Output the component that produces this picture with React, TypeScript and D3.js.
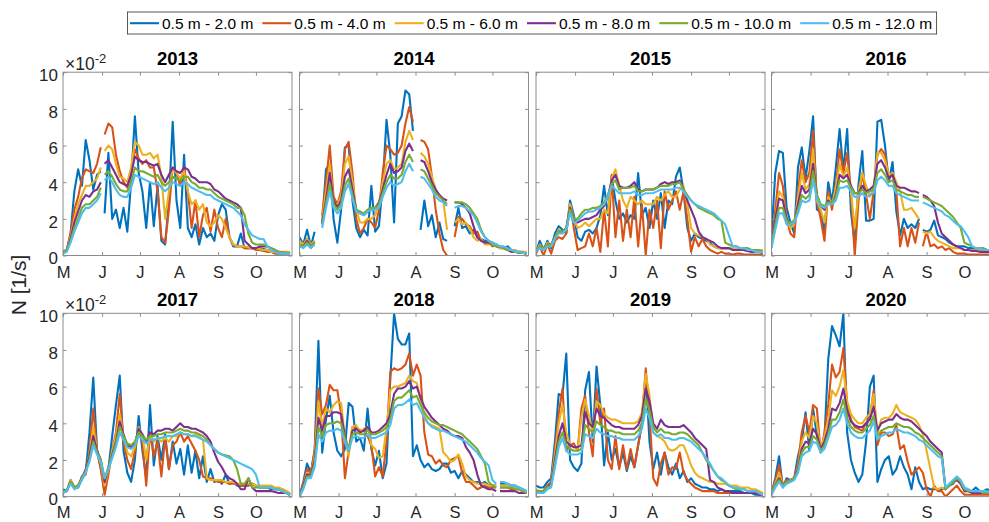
import React, { useEffect, useRef } from "react";
import * as d3 from "d3";

const W = 989;
const H = 522;
const FONT = "'Liberation Sans', Arial, Helvetica, sans-serif";
const INK = "#262626";
const FRAME = "#8c8c8c";

const COL_X = [63, 299.5, 536, 771.5];
const ROW_Y = [72.2, 313.3];
const PANEL_W = 229;
const PANEL_H = 183.3;
const X_END = 181.6; // days after 1 May shown on each axis

// Sampling grid: every third day starting 1 May
const DAYS = d3.range(0, 181, 3);

const MONTH_DAYS = [0, 31, 61, 92, 123, 153];
const MONTH_LABELS = ["M", "J", "J", "A", "S", "O"];
const Y_TICKS = [0, 2, 4, 6, 8, 10];
const YEARS = [2013, 2014, 2015, 2016, 2017, 2018, 2019, 2020];
const DEPTH_LABELS = [
  "0.5 m - 2.0 m",
  "0.5 m - 4.0 m",
  "0.5 m - 6.0 m",
  "0.5 m - 8.0 m",
  "0.5 m - 10.0 m",
  "0.5 m - 12.0 m",
];
const COLORS = ["#0072BD", "#D95319", "#EDB120", "#7E2F8E", "#77AC30", "#4DBEEE"];

// Buoyancy frequency N (x 1e-2 1/s), one array per year and depth range
const n2013_2 = [
  0.2, 0.3, 1.2, 3.5, 4.7, 3.8, 6.3, 5.2, 3.6, 4.4,
  4.6, 2.3, 5.6, 2.0, 2.5, 1.5, 2.6, 1.3, 4.0, 7.6,
  4.5, 3.5, 1.5, 4.0, 1.6, 3.8, 0.8, 0.6, 3.0, 7.3,
  3.0, 1.5, 5.5, 1.5, 1.0, 1.7, 0.6, 1.5, 1.0, 1.2,
  0.8, 2.2, 2.8, 2.5, 1.0, 0.5, 0.5, 1.2, 0.4, 0.4,
  0.4, 0.4, 0.4, 0.35, 0.3, 0.2, 0.15, 0.1, 0.1, 0.15,
  0.1,
];
const n2013_4 = [
  0.2, 0.3, 1.2, 2.5, 3.2, 4.2, 4.7, 4.6, 4.5, 5.0,
  5.9, 6.6, 7.2, 7.0, 5.5, 4.6, 4.0, 3.7, 4.5, 5.8,
  5.3, 5.0, 5.2, 4.8, 4.8, 3.5, 1.0, 0.7, 2.5, 4.8,
  4.5, 3.8, 4.8, 3.5, 1.5, 3.0, 1.0, 2.2, 2.6, 1.3,
  2.5, 1.5, 1.0, 2.0, 1.0, 0.6, 0.5, 0.5, 0.4, 0.4,
  0.4, 0.3, 0.3, 0.25, 0.2, 0.2, 0.1, 0.1, 0.1, 0.1,
  0.1,
];
const n2013_6 = [
  0.2, 0.3, 1.0, 2.0, 2.8, 3.3, 3.8, 3.8, 4.0, 4.2,
  4.8, 5.7, 6.0, 5.8, 5.0, 4.3, 4.2, 4.0, 4.8, 6.2,
  6.0, 5.5, 5.5, 5.6, 5.3, 5.5, 4.3, 2.0, 3.5, 4.8,
  4.5, 4.2, 4.6, 3.5, 2.8, 3.0, 2.5, 2.8, 1.8, 1.6,
  1.8, 2.2, 2.0, 1.5, 1.0, 0.6, 0.5, 0.5, 0.5, 0.45,
  0.4, 0.4, 0.35, 0.3, 0.3, 0.2, 0.2, 0.2, 0.2, 0.2,
  0.2,
];
const n2013_8 = [
  0.2, 0.3, 0.9, 1.8, 2.4, 3.0, 3.3, 3.2, 3.5, 3.6,
  4.0, 5.0, 5.2, 4.8, 4.4, 4.0, 3.9, 3.8, 4.4, 5.4,
  5.2, 5.1, 5.1, 5.0, 4.9, 5.0, 4.4, 4.0, 4.4, 4.8,
  4.6, 4.5, 4.8, 4.7, 4.3, 4.2, 4.0, 4.0, 4.0, 3.9,
  3.6, 3.5, 3.3, 3.1, 3.0, 2.9, 2.8, 2.6, 0.8, 0.6,
  0.4, 0.4, 0.5, 0.5, 0.5, 0.4, 0.3, 0.2, 0.15, 0.15,
  0.1,
];
const n2013_10 = [
  0.2, 0.3, 0.8, 1.5, 2.0, 2.6, 2.8, 2.8, 3.0, 3.2,
  3.7, 4.4, 4.6, 4.3, 3.9, 3.6, 3.5, 3.5, 4.0, 4.8,
  4.6, 4.6, 4.5, 4.4, 4.3, 4.4, 4.0, 3.8, 4.0, 4.3,
  4.2, 4.1, 4.3, 4.3, 4.0, 3.9, 3.7, 3.7, 3.6, 3.6,
  3.4, 3.2, 3.1, 3.0, 2.9, 2.8, 2.6, 2.6, 2.2, 1.2,
  0.7, 0.6, 0.6, 0.6, 0.5, 0.4, 0.3, 0.2, 0.15, 0.15,
  0.1,
];
const n2013_12 = [
  0.1, 0.2, 0.7, 1.3, 1.8, 2.3, 2.6, 2.6, 2.8, 3.0,
  3.4, 4.1, 4.3, 4.0, 3.6, 3.3, 3.2, 3.2, 3.7, 4.4,
  4.3, 4.2, 4.1, 4.0, 3.9, 4.0, 3.7, 3.5, 3.7, 4.0,
  3.9, 3.8, 4.0, 3.9, 3.7, 3.6, 3.5, 3.4, 3.3, 3.3,
  3.1, 3.0, 2.9, 2.8, 2.7, 2.6, 2.4, 2.2, 1.7, 1.4,
  1.1, 1.0, 0.9, 0.9, 0.5, 0.3, 0.2, 0.1, 0.1, 0.1,
  0.1,
];

const n2014_2 = [
  1.0, 0.6, 1.4, 0.5, 1.3, null, 1.7, 4.7, 5.0, 2.0,
  0.7, 2.5, 5.9, 6.0, 3.0, 1.5, 1.0, 1.4, 1.1, 3.8,
  1.3, 1.6, 3.9, 7.4, 5.5, 1.8, 7.2, 7.6, 9.0, 8.8,
  6.8, null, 1.4, 3.0, 1.6, 2.2, 1.0, 1.8, 0.9, 0.8,
  null, 1.6, 2.6, 1.5, 1.6, 1.2, 1.4, 1.0, 0.9, 0.8,
  0.8, 0.7, 0.6, 0.4, 0.4, 0.5, 0.3, 0.2, 0.2, 0.2,
  0.1,
];
const n2014_4 = [
  0.8, 0.6, 0.9, 0.5, 0.8, null, 2.2, 4.0, 6.0, 3.2,
  2.8, 3.5, 5.8, 6.2, 4.5, 2.0, 1.2, 1.5, 2.0, 1.8,
  1.5, 2.5, 4.5, 6.0, 5.8, 5.5, 5.6, 6.0, 7.2, 8.1,
  7.3, null, 6.3, 6.2, 5.8, 4.3, 2.5, 1.2, 0.3, 0.0,
  null, 1.0, 2.1, 2.0, 1.7, 1.6, 1.2, 1.3, 0.8, 0.7,
  0.8, 0.5, 0.6, 0.5, 0.4, 0.3, 0.3, 0.2, 0.15, 0.15,
  0.1,
];
const n2014_6 = [
  0.8, 0.6, 0.9, 0.6, 0.8, null, 2.0, 3.5, 5.0, 3.0,
  2.7, 3.3, 5.0, 5.4, 4.0, 2.5, 1.8, 1.8, 2.0, 2.0,
  2.2, 2.8, 4.0, 5.0, 5.2, 4.7, 4.8, 5.0, 6.2, 6.8,
  6.3, null, 5.6, 5.4, 5.0, 4.3, 3.6, 3.2, 3.0, 1.4,
  null, 1.8, 2.0, 1.7, 1.8, 1.5, 1.0, 0.8, 0.9, 0.6,
  0.6, 0.6, 0.5, 0.4, 0.4, 0.3, 0.3, 0.3, 0.2, 0.2,
  0.2,
];
const n2014_8 = [
  0.6, 0.5, 0.8, 0.5, 0.7, null, 1.8, 3.0, 4.5, 3.0,
  2.6, 3.0, 4.3, 4.7, 3.6, 2.5, 2.3, 2.2, 2.4, 2.5,
  2.6, 2.9, 3.6, 4.4, 5.0, 4.5, 4.6, 4.8, 5.7, 6.1,
  5.7, null, 5.2, 5.1, 4.6, 4.0, 3.6, 3.3, 3.1, 3.0,
  null, 2.9, 2.9, 2.8, 2.6, 2.3, 1.6, 1.0, 0.8, 0.7,
  0.7, 0.6, 0.5, 0.5, 0.4, 0.3, 0.2, 0.2, 0.15, 0.15,
  0.1,
];
const n2014_10 = [
  0.6, 0.5, 0.7, 0.5, 0.7, null, 1.7, 2.8, 3.9, 2.8,
  2.5, 2.8, 3.8, 4.2, 3.3, 2.5, 2.4, 2.3, 2.5, 2.6,
  2.6, 2.8, 3.4, 4.0, 4.4, 4.2, 4.2, 4.4, 5.1, 5.5,
  5.1, null, 4.7, 4.6, 4.2, 3.8, 3.4, 3.2, 3.0, 2.8,
  null, 2.9, 2.9, 2.9, 2.8, 2.6, 2.3, 2.0, 1.4, 1.0,
  0.8, 0.6, 0.5, 0.5, 0.4, 0.3, 0.3, 0.2, 0.15, 0.15,
  0.1,
];
const n2014_12 = [
  0.5, 0.4, 0.6, 0.4, 0.6, null, 1.5, 2.6, 3.5, 2.6,
  2.3, 2.6, 3.5, 3.9, 3.1, 2.4, 2.3, 2.2, 2.4, 2.5,
  2.5, 2.6, 3.2, 3.7, 4.0, 3.8, 3.9, 4.0, 4.6, 5.0,
  4.6, null, 4.3, 4.2, 3.9, 3.6, 3.2, 3.0, 2.9, 2.7,
  null, 2.6, 2.7, 2.7, 2.6, 2.4, 2.2, 1.8, 1.3, 1.0,
  0.8, 0.7, 0.6, 0.5, 0.5, 0.4, 0.3, 0.2, 0.2, 0.15,
  0.1,
];

const n2015_2 = [
  0.2, 0.8, 0.3, 0.8, 0.4, 1.2, 1.6, 1.4, 1.2, 3.0,
  2.2, 1.0, 0.8, 1.3, 1.4, 1.2, 1.5, 2.2, 3.8, 2.2,
  4.3, 3.0, 2.0, 2.3, 1.8, 2.2, 2.0, 4.5, 2.2, 2.6,
  1.5, 3.0, 2.0, 3.4, 1.5, 3.0, 2.8, 4.3, 4.8, 3.5,
  1.5, 0.8, 1.2, 1.0, 0.9, 0.8, 0.7, 0.5, 0.4, 0.4,
  0.4, 0.4, 0.35, 0.3, 0.3, 0.3, 0.25, 0.2, 0.2, 0.2,
  0.2,
];
const n2015_4 = [
  0.1, 0.5, 0.0, 0.6, 0.1, 0.8, 1.0, 0.9, 1.2, 2.8,
  1.5, 0.3, 0.4, 0.5, 1.2, 0.5, 1.5, 0.2, 2.5, 0.5,
  4.4, 1.0, 3.0, 0.8, 2.5, 1.0, 3.2, 0.5, 2.8, 0.0,
  2.5, 1.5, 3.0, 0.4, 3.5, 2.5, 3.0, 3.5, 2.5, 3.5,
  2.0, 0.2, 1.0, 0.5, 0.9, 0.5, 0.3, 0.2, 0.1, 0.2,
  0.1, 0.1, 0.05, 0.1, 0.1, 0.05, 0.05, 0.05, 0.05, 0.05,
  0.1,
];
const n2015_6 = [
  0.3, 0.6, 0.3, 0.7, 0.5, 1.0, 1.4, 1.3, 1.4, 2.8,
  2.0, 1.5, 1.6, 1.8, 1.6, 1.8, 2.0, 2.0, 2.5, 2.3,
  4.2, 4.7, 3.8, 3.0, 2.6, 3.2, 3.0, 2.8, 3.0, 2.8,
  2.8, 2.8, 3.2, 3.0, 3.3, 3.5, 3.2, 3.2, 3.6, 3.8,
  2.8, 1.5, 1.2, 1.1, 1.0, 0.9, 0.6, 0.5, 0.4, 0.4,
  0.4, 0.4, 0.35, 0.35, 0.35, 0.3, 0.3, 0.3, 0.3, 0.3,
  0.3,
];
const n2015_8 = [
  0.3, 0.5, 0.4, 0.6, 0.6, 1.0, 1.3, 1.3, 1.5, 2.6,
  2.0, 1.8, 1.9, 2.0, 2.0, 2.1, 2.2, 2.5, 2.7, 3.2,
  4.1, 4.4, 3.8, 3.7, 3.7, 3.8, 4.0, 3.6, 3.5, 3.6,
  3.6, 3.6, 3.7, 3.9, 4.0, 3.9, 4.0, 4.0, 4.1, 3.6,
  3.0, 2.5, 2.0, 1.3, 1.0, 0.9, 0.8, 0.7, 0.5, 0.4,
  0.4, 0.4, 0.3, 0.3, 0.3, 0.3, 0.25, 0.2, 0.2, 0.2,
  0.2,
];
const n2015_10 = [
  0.3, 0.5, 0.4, 0.6, 0.6, 1.0, 1.3, 1.3, 1.5, 2.5,
  2.0, 2.0, 2.3, 2.5, 2.5, 2.6, 2.6, 2.7, 2.9, 3.3,
  3.9, 4.1, 3.6, 3.7, 3.7, 3.7, 3.8, 3.5, 3.5, 3.6,
  3.6, 3.6, 3.7, 3.8, 3.8, 3.8, 3.9, 3.9, 4.0, 3.6,
  3.3, 3.0, 2.8, 2.6, 2.5, 2.4, 2.3, 2.2, 2.0, 1.9,
  0.7, 0.6, 0.5, 0.5, 0.4, 0.4, 0.4, 0.3, 0.3, 0.3,
  0.2,
];
const n2015_12 = [
  0.2, 0.4, 0.3, 0.5, 0.5, 0.9, 1.2, 1.2, 1.4, 2.3,
  1.8, 1.9, 2.1, 2.3, 2.4, 2.4, 2.5, 2.6, 2.8, 3.2,
  3.8, 3.6, 3.4, 3.4, 3.4, 3.4, 3.5, 3.3, 3.3, 3.4,
  3.4, 3.4, 3.5, 3.6, 3.6, 3.6, 3.6, 3.7, 3.7, 3.5,
  3.2, 3.0, 2.8, 2.7, 2.6, 2.5, 2.4, 2.3, 2.1, 1.9,
  1.7, 1.1, 0.5, 0.5, 0.4, 0.4, 0.3, 0.3, 0.2, 0.2,
  0.2,
];

const n2016_2 = [
  1.1, 4.5, 5.7, 5.6, 2.6, 1.8, 1.2, 4.8, 5.9, 4.2,
  5.7, 7.6, 2.5, 2.4, 1.3, 4.0, 2.9, 4.8, 6.9, 4.6,
  6.9, 2.4, 0.6, 3.9, 5.7, 1.9, 1.9, 2.0, 7.3, 7.4,
  6.0, 4.0, 5.1, 2.4, 1.1, 2.0, 1.5, 1.7, 1.5, 2.0,
  1.4, 1.3, 1.4, 1.9, 1.1, 1.0, 0.9, 0.7, 0.6, 0.5,
  0.5, 0.5, 0.4, 0.4, 0.4, 0.35, 0.35, 0.3, 0.3, 0.3,
  0.3,
];
const n2016_4 = [
  0.5, 2.5, 4.5, 3.8, 2.0, 1.2, 1.0, 3.5, 5.2, 4.0,
  4.5, 6.8, 3.0, 2.0, 0.8, 3.5, 2.5, 3.8, 5.8, 4.5,
  5.6, 3.5, 0.0, 3.0, 4.5, 3.3, 2.0, 3.5, 5.5, 5.8,
  5.5, 4.2, 4.5, 3.5, 0.5, 1.5, 0.5, 1.5, 0.7, 1.8,
  0.5, 1.3, 0.5, 0.6, 0.4, 0.5, 0.3, 0.4, 0.2, 0.1,
  0.1, 0.1, 0.05, 0.05, 0.05, 0.05, 0.05, 0.05, 0.05, 0.05,
  0.05,
];
const n2016_6 = [
  0.6, 2.0, 3.5, 3.2, 2.0, 1.5, 1.7, 3.2, 4.5, 3.6,
  3.9, 5.8, 3.0, 2.5, 1.8, 3.2, 2.8, 3.7, 5.0, 4.3,
  4.8, 3.5, 1.5, 3.5, 4.5, 3.8, 3.2, 3.7, 5.6, 5.6,
  5.2, 4.4, 4.5, 4.0, 3.5, 2.5, 2.5, 2.6, 2.3, 2.0,
  1.3, 1.2, 1.3, 1.0, 0.8, 0.7, 0.6, 0.5, 0.4, 0.4,
  0.4, 0.3, 0.3, 0.3, 0.3, 0.3, 0.3, 0.3, 0.3, 0.3,
  0.3,
];
const n2016_8 = [
  0.7, 2.0, 3.1, 3.0, 2.0, 1.7, 1.8, 2.8, 3.8, 3.4,
  3.6, 5.0, 3.3, 2.7, 2.5, 3.0, 2.8, 3.3, 4.4, 4.2,
  4.4, 3.8, 3.4, 3.4, 3.8, 3.5, 3.6, 3.8, 5.0, 5.2,
  4.8, 4.2, 4.4, 3.8, 3.7, 3.7, 3.6, 3.5, 3.5, 3.4,
  3.3, 3.2, 3.0, 2.7, 1.8, 1.2, 1.0, 0.8, 0.6, 0.5,
  0.4, 0.3, 0.3, 0.25, 0.25, 0.2, 0.2, 0.2, 0.2, 0.2,
  0.2,
];
const n2016_10 = [
  0.6, 1.7, 2.6, 2.6, 1.9, 1.8, 1.9, 2.5, 3.3, 3.1,
  3.3, 4.6, 3.3, 2.8, 2.7, 2.9, 2.9, 3.2, 4.1, 4.0,
  4.1, 3.7, 3.4, 3.4, 3.6, 3.4, 3.5, 3.6, 4.5, 4.7,
  4.4, 4.0, 4.1, 3.6, 3.5, 3.4, 3.3, 3.3, 3.2, 3.2,
  3.2, 3.1, 3.0, 2.9, 2.8, 2.7, 2.5, 2.3, 2.1, 1.8,
  1.5, 0.7, 0.6, 0.5, 0.4, 0.4, 0.4, 0.3, 0.3, 0.3,
  0.3,
];
const n2016_12 = [
  0.4, 1.4, 2.3, 2.3, 1.7, 1.7, 1.8, 2.3, 3.0, 2.9,
  3.0, 4.1, 3.1, 2.7, 2.6, 2.8, 2.8, 3.0, 3.7, 3.7,
  3.8, 3.5, 3.2, 3.2, 3.4, 3.2, 3.3, 3.4, 4.1, 4.3,
  4.1, 3.8, 3.8, 3.4, 3.3, 3.2, 3.1, 3.0, 3.0, 3.0,
  2.9, 2.8, 2.7, 2.6, 2.5, 2.4, 2.2, 2.1, 1.9, 1.7,
  1.6, 1.3, 1.0, 0.5, 0.4, 0.4, 0.3, 0.3, 0.3, 0.3,
  0.3,
];

const n2017_2 = [
  0.4, 0.3, 0.9, 0.5, 0.5, 1.1, 1.3, 3.5, 6.5, 2.5,
  1.5, 0.3, 1.5, 3.3, 5.0, 6.6, 2.5, 1.3, 0.8, 2.0,
  4.4, 2.5, 1.0, 5.0, 1.7, 3.3, 2.0, 3.4, 1.5, 3.0,
  1.8, 2.6, 1.2, 2.8, 1.3, 2.5, 1.0, 2.2, 0.8, 1.5,
  0.8, 0.9, 0.7, 1.2, 0.7, 0.8, 0.6, 0.6, 0.6, 0.6,
  0.7, 0.6, 0.5, 0.5, 0.5, 0.4, 0.4, 0.4, 0.3, 0.2,
  0.1,
];
const n2017_4 = [
  0.3, 0.3, 0.9, 0.5, 0.5, 1.0, 1.2, 2.5, 4.8, 2.5,
  1.5, 0.1, 1.2, 2.5, 3.5, 5.6, 3.0, 2.0, 1.5, 2.5,
  3.7, 3.0, 0.6, 3.5, 2.2, 3.0, 1.1, 3.2, 1.5, 2.8,
  3.0, 3.5, 3.0, 3.3, 2.9, 2.5, 2.0, 1.1, 1.0, 1.0,
  0.9, 0.8, 0.8, 0.8, 0.7, 0.7, 0.7, 0.6, 0.6, 0.6,
  0.7, 0.6, 0.5, 0.5, 0.5, 0.5, 0.4, 0.4, 0.4, 0.3,
  0.1,
];
const n2017_6 = [
  0.3, 0.3, 0.9, 0.5, 0.6, 1.0, 1.4, 2.3, 3.8, 2.5,
  1.8, 0.6, 1.5, 2.5, 3.3, 4.5, 3.3, 2.4, 2.2, 2.7,
  3.8, 3.3, 2.0, 3.4, 3.0, 3.2, 3.0, 3.2, 3.0, 3.3,
  3.3, 3.5, 3.4, 3.4, 3.3, 3.4, 3.3, 3.1, 1.0, 0.9,
  0.9, 0.9, 0.9, 0.8, 0.8, 0.8, 0.7, 0.7, 0.7, 0.7,
  0.7, 0.6, 0.6, 0.6, 0.6, 0.6, 0.5, 0.5, 0.4, 0.3,
  0.2,
];
const n2017_8 = [
  0.3, 0.3, 0.8, 0.5, 0.6, 1.0, 1.5, 2.2, 3.3, 2.5,
  2.0, 0.8, 1.6, 2.3, 3.0, 4.1, 3.4, 2.8, 2.7, 2.9,
  3.7, 3.4, 3.0, 3.5, 3.4, 3.6, 3.6, 3.7, 3.7, 3.6,
  3.8, 4.0, 3.8, 3.8, 3.7, 3.7, 3.6, 3.5, 3.3, 3.0,
  2.4, 1.9, 1.6, 1.2, 1.0, 0.9, 0.7, 0.4, 0.4, 1.0,
  0.5, 0.3, 0.3, 0.3, 0.3, 0.3, 0.25, 0.2, 0.2, 0.2,
  0.1,
];
const n2017_10 = [
  0.3, 0.3, 0.8, 0.5, 0.6, 1.0, 1.4, 2.0, 3.0, 2.4,
  2.0, 1.0, 1.6, 2.2, 2.9, 3.8, 3.3, 2.9, 2.8, 3.0,
  3.5, 3.3, 3.1, 3.3, 3.3, 3.4, 3.4, 3.5, 3.5, 3.5,
  3.6, 3.7, 3.6, 3.6, 3.5, 3.5, 3.4, 3.3, 3.1, 2.8,
  2.6, 2.4, 2.3, 2.25, 2.2, 2.0, 1.5, 0.7, 0.7, 1.0,
  0.5, 0.5, 0.5, 0.5, 0.5, 0.5, 0.4, 0.4, 0.3, 0.2,
  0.1,
];
const n2017_12 = [
  0.2, 0.3, 0.7, 0.4, 0.5, 0.9, 1.3, 1.9, 2.8, 2.3,
  1.9, 1.0, 1.5, 2.1, 2.7, 3.5, 3.1, 2.7, 2.6, 2.8,
  3.3, 3.1, 2.9, 3.1, 3.1, 3.2, 3.2, 3.3, 3.3, 3.3,
  3.4, 3.5, 3.4, 3.4, 3.3, 3.3, 3.2, 3.1, 3.0, 2.8,
  2.6, 2.4, 2.3, 2.2, 2.1, 2.0, 1.9, 1.8, 1.7, 1.6,
  1.5, 1.2, 0.5, 0.5, 0.5, 0.5, 0.4, 0.4, 0.3, 0.2,
  0.1,
];

const n2018_2 = [
  0.0, 0.8, 1.8, 1.3, 2.5, 8.5, 2.4, 4.2, 5.5, 3.5,
  2.5, 2.2, 2.6, 5.1, 4.9, 3.0, 3.2, 2.5, 4.8, 2.6,
  1.7, 2.5, 1.0, 1.8, 6.4, 10.0, 8.6, 8.3, 8.3, 8.9,
  2.2, 2.8, 2.0, 1.6, 1.8, 1.5, 1.4, 1.5, 1.8, 1.8,
  1.3, 1.4, 1.0, 1.4, 1.2, 1.0, 0.8, 0.8, 0.7, 0.8,
  0.6, 0.6, 0.6, 0.7, 0.7, 0.7, 0.6, 0.6, 0.5, 0.4,
  0.3,
];
const n2018_4 = [
  0.0, 0.7, 1.5, 1.3, 2.5, 5.9, 4.5, 5.0, 6.1, 5.8,
  5.8, 4.5, 1.0, 2.5, 3.8, 3.8, 3.6, 3.6, 3.3, 2.8,
  1.1, 1.6, 1.1, 3.0, 6.8, 7.0, 6.9, 7.0, 7.2, 7.8,
  6.6, 7.2, 6.6, 3.5, 2.3, 2.2, 1.8, 2.0, 1.7, 1.6,
  2.0, 2.1, 2.2, 1.3, 0.8, 0.8, 0.6, 0.4, 0.5, 0.6,
  0.5, 0.5, 0.5, 0.5, 0.5, 0.5, 0.4, 0.4, 0.4, 0.3,
  0.2,
];
const n2018_6 = [
  0.0, 0.6, 1.3, 1.2, 2.2, 5.2, 3.8, 4.8, 4.6, 5.0,
  5.2, 5.1, 3.2, 2.2, 3.8, 3.9, 3.5, 3.7, 3.8, 2.8,
  2.6, 2.1, 2.2, 3.7, 5.8, 6.0, 6.0, 6.1, 6.2, 6.6,
  6.3, 6.2, 5.3, 4.4, 4.0, 3.9, 3.8, 3.7, 2.4, 2.2,
  1.9, 2.0, 2.3, 1.8, 1.1, 0.9, 0.8, 0.7, 0.7, 0.7,
  0.6, 0.6, 0.6, 0.6, 0.6, 0.6, 0.5, 0.5, 0.4, 0.3,
  0.2,
];
const n2018_8 = [
  0.0, 0.6, 1.2, 1.2, 2.0, 4.3, 3.6, 4.4, 4.4, 4.6,
  4.6, 4.5, 3.3, 2.5, 3.6, 3.7, 3.5, 3.6, 3.8, 3.5,
  3.5, 3.6, 3.8, 4.0, 4.5, 5.6, 5.9, 5.9, 6.0, 6.3,
  5.9, 6.0, 5.4, 4.9, 4.6, 4.3, 4.1, 3.9, 3.7, 3.6,
  3.4, 3.3, 3.3, 3.2, 2.7, 2.4, 2.0, 1.2, 0.6, 0.5,
  0.4, 0.4, 0.3, 0.3, 0.3, 0.3, 0.3, 0.3, 0.2, 0.2,
  0.2,
];
const n2018_10 = [
  0.0, 0.5, 1.1, 1.1, 1.8, 3.8, 3.3, 3.9, 4.0, 4.0,
  4.1, 4.0, 3.2, 2.6, 3.4, 3.5, 3.4, 3.4, 3.6, 3.4,
  3.4, 3.5, 3.6, 3.8, 4.2, 5.2, 5.4, 5.4, 5.6, 5.8,
  5.4, 5.5, 5.0, 4.6, 4.3, 4.1, 4.0, 3.9, 3.9, 3.8,
  3.7, 3.6, 3.5, 3.4, 3.2, 3.0, 2.8, 2.6, 2.2, 1.8,
  0.8, 0.6, 0.5, 0.5, 0.5, 0.5, 0.5, 0.4, 0.4, 0.3,
  0.2,
];
const n2018_12 = [
  0.0, 0.4, 1.0, 1.0, 1.6, 3.4, 3.0, 3.5, 3.6, 3.6,
  3.7, 3.6, 3.0, 2.5, 3.2, 3.3, 3.2, 3.2, 3.4, 3.2,
  3.2, 3.3, 3.4, 3.5, 3.9, 4.8, 5.0, 5.0, 5.1, 5.3,
  5.0, 5.1, 4.7, 4.3, 4.0, 3.8, 3.7, 3.6, 3.6, 3.5,
  3.4, 3.3, 3.2, 3.1, 3.0, 2.8, 2.6, 2.4, 2.1, 1.9,
  1.7, 0.9, 0.7, 0.8, 0.8, 0.7, 0.6, 0.6, 0.5, 0.4,
  0.3,
];

const n2019_2 = [
  0.6, 0.5, 0.5, 0.8, 1.0, 3.0, 5.6, 5.5, 7.8, 2.0,
  1.6, 1.4, 1.8, 5.8, 6.8, 3.0, 7.1, 5.0, 1.7, 3.5,
  2.0, 2.6, 1.6, 2.4, 1.4, 2.2, 1.6, 2.8, 4.0, 6.7,
  3.0, 1.5, 2.4, 1.2, 2.4, 1.6, 1.2, 1.8, 1.0, 1.4,
  0.8, 1.0, 0.7, 0.6, 0.5, 0.5, 0.4, 0.4, 0.3, 0.4,
  0.3, 0.3, 0.3, 0.3, 0.3, 0.2, 0.2, 0.2, 0.1, 0.1,
  0.1,
];
const n2019_4 = [
  0.3, 0.2, 0.3, 0.6, 0.8, 2.5, 4.5, 5.9, 2.5, 2.8,
  2.9, 2.5, 4.8, 5.5, 3.5, 2.2, 5.9, 4.0, 4.8, 2.0,
  1.5, 3.3, 1.5, 2.8, 1.5, 2.6, 1.6, 2.8, 4.0, 7.0,
  4.5, 1.0, 0.6, 1.8, 2.4, 1.2, 1.6, 1.5, 2.4, 1.3,
  0.9, 0.7, 0.5, 0.4, 0.3, 0.3, 0.3, 0.3, 0.2, 0.2,
  0.2, 0.2, 0.2, 0.2, 0.2, 0.2, 0.2, 0.2, 0.2, 0.15,
  0.1,
];
const n2019_6 = [
  0.4, 0.3, 0.3, 0.5, 0.7, 2.3, 4.0, 5.0, 3.5, 2.8,
  2.7, 2.6, 4.3, 5.3, 4.4, 3.5, 5.2, 5.0, 4.5, 4.3,
  4.2, 4.2, 4.1, 4.0, 4.0, 4.0, 4.0, 4.1, 4.6, 6.7,
  5.5, 3.5, 3.3, 3.2, 3.0, 2.6, 2.5, 2.6, 2.8, 2.8,
  2.3, 1.7, 1.3, 1.1, 1.0, 0.9, 0.8, 0.8, 0.7, 0.7,
  0.7, 0.6, 0.6, 0.6, 0.5, 0.5, 0.5, 0.4, 0.4, 0.3,
  0.2,
];
const n2019_8 = [
  0.3, 0.3, 0.3, 0.5, 0.7, 2.0, 3.3, 4.0, 3.0, 2.8,
  2.7, 2.7, 2.8, 4.6, 4.0, 3.8, 4.8, 4.4, 4.3, 4.1,
  3.9, 3.8, 3.8, 3.7, 3.7, 3.7, 3.7, 3.9, 4.4, 5.9,
  5.2, 4.0, 3.7, 4.2, 3.9, 3.8, 3.8, 3.8, 3.8, 3.9,
  3.7, 3.5, 3.2, 3.0, 2.8, 2.6, 0.9, 0.8, 0.5, 0.4,
  0.3, 0.3, 0.2, 0.2, 0.2, 0.2, 0.2, 0.2, 0.2, 0.1,
  0.1,
];
const n2019_10 = [
  0.3, 0.3, 0.3, 0.5, 0.6, 1.8, 3.0, 3.5, 2.8, 2.6,
  2.5, 2.5, 2.6, 3.9, 3.7, 3.5, 4.1, 3.9, 3.8, 3.6,
  3.6, 3.5, 3.5, 3.4, 3.4, 3.4, 3.4, 3.6, 4.0, 5.3,
  4.7, 3.8, 3.5, 3.7, 3.5, 3.5, 3.4, 3.4, 3.5, 3.5,
  3.4, 3.2, 3.0, 2.8, 2.4, 2.0, 1.7, 1.4, 1.1, 0.9,
  0.8, 0.6, 0.5, 0.4, 0.4, 0.4, 0.3, 0.3, 0.3, 0.2,
  0.1,
];
const n2019_12 = [
  0.2, 0.2, 0.2, 0.4, 0.5, 1.6, 2.7, 3.2, 2.5, 2.3,
  2.3, 2.3, 2.4, 3.4, 3.3, 3.2, 3.7, 3.5, 3.4, 3.3,
  3.3, 3.2, 3.2, 3.1, 3.1, 3.1, 3.1, 3.3, 3.7, 4.8,
  4.3, 3.5, 3.3, 3.4, 3.2, 3.2, 3.1, 3.1, 3.2, 3.2,
  3.1, 3.0, 2.8, 2.6, 2.4, 2.1, 1.8, 1.4, 1.1, 1.0,
  0.8, 0.6, 0.5, 0.5, 0.4, 0.4, 0.3, 0.3, 0.3, 0.2,
  0.1,
];

const n2020_2 = [
  0.2, 1.0, 2.2, 0.5, 1.0, 0.9, 1.0, 2.2, 3.0, 4.6,
  2.5, 4.8, 3.3, 2.5, 3.2, 7.5, 9.3, 8.8, 8.2, 10.0,
  3.5, 2.0, 1.3, 0.8, 1.2, 3.0, 6.0, 6.6, 0.8, 1.5,
  2.0, 2.2, 1.2, 1.5, 2.2, 1.6, 1.2, 0.4, 1.6, 0.8,
  0.4, 0.5, 0.4, 0.4, 0.4, 0.4, 0.5, 0.6, 0.7, 1.0,
  0.8, 0.4, 0.3, 0.3, 0.5, 0.3, 0.3, 0.4, 0.3, 0.2,
  0.2,
];
const n2020_4 = [
  0.2, 0.8, 1.7, 0.6, 0.9, 0.9, 1.0, 1.8, 3.5, 4.4,
  3.5, 5.0, 4.8, 2.4, 3.5, 5.0, 7.2, 6.5, 6.8, 8.1,
  5.0, 4.2, 3.8, 3.7, 3.6, 4.0, 4.3, 5.8, 2.8, 3.5,
  3.5, 3.3, 3.4, 3.9, 2.6, 2.8, 1.9, 1.2, 1.4, 1.6,
  1.3, 0.4, 0.0, 0.6, 0.3, 0.3, 0.0, 0.2, 0.4, 0.6,
  0.3, 0.1, 0.1, 0.1, 0.1, 0.1, 0.1, 0.1, 0.1, 0.1,
  0.1,
];
const n2020_6 = [
  0.2, 0.7, 1.3, 0.6, 0.8, 0.9, 1.0, 1.6, 3.0, 3.5,
  3.2, 4.4, 4.0, 2.6, 3.3, 4.2, 5.8, 5.5, 6.0, 6.9,
  5.2, 4.5, 4.2, 4.0, 4.0, 4.3, 4.5, 5.6, 3.5, 4.2,
  4.3, 4.3, 4.5, 5.0, 4.6, 4.5, 4.4, 4.3, 4.2, 3.9,
  3.4, 2.5, 1.5, 0.5, 0.4, 0.5, 0.4, 0.6, 0.8, 0.9,
  0.7, 0.3, 0.3, 0.3, 0.3, 0.3, 0.2, 0.2, 0.2, 0.2,
  0.2,
];
const n2020_8 = [
  0.2, 0.6, 1.0, 0.6, 0.8, 0.9, 1.0, 1.5, 2.6, 3.0,
  2.9, 3.7, 3.4, 2.6, 3.0, 3.7, 4.8, 4.7, 5.1, 5.9,
  4.7, 4.1, 3.9, 3.8, 3.8, 4.0, 4.2, 4.9, 3.6, 4.0,
  4.1, 4.2, 4.2, 4.5, 4.3, 4.2, 4.2, 4.1, 3.9, 3.7,
  3.5, 3.3, 3.0, 2.8, 2.6, 2.4, 0.4, 0.6, 0.8, 0.9,
  0.7, 0.3, 0.3, 0.2, 0.2, 0.2, 0.2, 0.2, 0.2, 0.2,
  0.2,
];
const n2020_10 = [
  0.2, 0.6, 0.9, 0.6, 0.8, 0.9, 1.0, 1.4, 2.4, 2.7,
  2.7, 3.3, 3.1, 2.5, 2.8, 3.4, 4.2, 4.2, 4.6, 5.3,
  4.3, 3.8, 3.6, 3.5, 3.5, 3.7, 3.9, 4.4, 3.3, 3.6,
  3.7, 3.8, 3.8, 4.0, 3.9, 3.8, 3.8, 3.7, 3.5, 3.4,
  3.2, 3.0, 2.8, 2.6, 2.4, 2.2, 0.4, 0.6, 0.8, 1.0,
  0.8, 0.4, 0.3, 0.3, 0.3, 0.3, 0.2, 0.2, 0.2, 0.2,
  0.2,
];
const n2020_12 = [
  0.1, 0.5, 0.8, 0.5, 0.7, 0.8, 0.9, 1.3, 2.2, 2.4,
  2.5, 3.0, 2.9, 2.4, 2.6, 3.2, 3.8, 3.9, 4.2, 4.8,
  4.0, 3.5, 3.3, 3.2, 3.2, 3.4, 3.6, 4.1, 3.1, 3.3,
  3.4, 3.5, 3.5, 3.7, 3.6, 3.5, 3.5, 3.4, 3.3, 3.1,
  3.0, 2.8, 2.6, 2.4, 2.2, 2.1, 0.5, 0.7, 0.9, 1.1,
  0.9, 0.5, 0.4, 0.3, 0.3, 0.3, 0.3, 0.3, 0.2, 0.2,
  0.2,
];

// Interruptions in the record: [last day before, first day after]
const breaks2013 = [[30, 33]];
const breaks2016 = [[117, 120]];
const breaks2018 = [[156, 159]];

type Pt = { d: number; v: number | null };

const PANELS = [
  { year: YEARS[0], series: [n2013_2, n2013_4, n2013_6, n2013_8, n2013_10, n2013_12], breaks: breaks2013 },
  { year: YEARS[1], series: [n2014_2, n2014_4, n2014_6, n2014_8, n2014_10, n2014_12], breaks: [] },
  { year: YEARS[2], series: [n2015_2, n2015_4, n2015_6, n2015_8, n2015_10, n2015_12], breaks: [] },
  { year: YEARS[3], series: [n2016_2, n2016_4, n2016_6, n2016_8, n2016_10, n2016_12], breaks: breaks2016 },
  { year: YEARS[4], series: [n2017_2, n2017_4, n2017_6, n2017_8, n2017_10, n2017_12], breaks: [] },
  { year: YEARS[5], series: [n2018_2, n2018_4, n2018_6, n2018_8, n2018_10, n2018_12], breaks: breaks2018 },
  { year: YEARS[6], series: [n2019_2, n2019_4, n2019_6, n2019_8, n2019_10, n2019_12], breaks: [] },
  { year: YEARS[7], series: [n2020_2, n2020_4, n2020_6, n2020_8, n2020_10, n2020_12], breaks: [] },
];

function toPoints(vals: (number | null)[], breaks: number[][]): Pt[] {
  const pts: Pt[] = [];
  vals.forEach((v, j) => {
    const d = DAYS[j];
    if (j > 0 && breaks.some(([a, b]) => DAYS[j - 1] === a && d === b)) {
      pts.push({ d: (DAYS[j - 1] + d) / 2, v: null });
    }
    pts.push({ d, v });
  });
  return pts;
}

export default function App() {
  const ref = useRef<SVGSVGElement>(null);

  useEffect(() => {
    const svg = d3.select(ref.current);
    svg.selectAll("*").remove();
    svg.append("rect").attr("width", W).attr("height", H).attr("fill", "#fff");

    const x = d3.scaleLinear().domain([0, X_END]).range([0, PANEL_W]);
    const y = d3.scaleLinear().domain([0, 10]).range([PANEL_H, 0]);
    const line = d3
      .line<Pt>()
      .defined((p) => p.v !== null)
      .x((p) => x(p.d))
      .y((p) => y(p.v as number));

    PANELS.forEach((panel, i) => {
      const col = i % 4;
      const row = Math.floor(i / 4);
      const g = svg
        .append("g")
        .attr("transform", `translate(${COL_X[col]},${ROW_Y[row]})`);

      const clipId = `plot-clip-${panel.year}`;
      g.append("clipPath")
        .attr("id", clipId)
        .append("rect")
        .attr("width", PANEL_W)
        .attr("height", PANEL_H);

      const plot = g.append("g").attr("clip-path", `url(#${clipId})`);
      panel.series.forEach((vals, k) => {
        plot
          .append("path")
          .attr("d", line(toPoints(vals as (number | null)[], panel.breaks)) || "")
          .attr("fill", "none")
          .attr("stroke", COLORS[k])
          .attr("stroke-width", 2.1)
          .attr("stroke-linejoin", "round");
      });

      // box
      g.append("rect")
        .attr("width", PANEL_W)
        .attr("height", PANEL_H)
        .attr("fill", "none")
        .attr("stroke", FRAME)
        .attr("stroke-width", 1);

      const styleAxis = (sel: any, size = 17) => {
        sel.select(".domain").remove();
        sel.attr("font-family", FONT).attr("font-size", size).attr("color", FRAME);
        sel.selectAll("text").attr("fill", INK);
      };

      const bottom = g
        .append("g")
        .attr("transform", `translate(0,${PANEL_H})`)
        .call(
          d3
            .axisBottom(x)
            .tickValues(MONTH_DAYS)
            .tickFormat((_, idx) => MONTH_LABELS[idx])
            .tickSizeInner(-3.5)
            .tickSizeOuter(0)
            .tickPadding(row === 0 ? 11 : 9.5)
        );
      styleAxis(bottom, 16.5);

      const top = g.append("g").call(
        d3
          .axisTop(x)
          .tickValues(MONTH_DAYS)
          .tickFormat(() => "")
          .tickSizeInner(-3.5)
          .tickSizeOuter(0)
      );
      styleAxis(top);

      const left = g.append("g").call(
        d3
          .axisLeft(y)
          .tickValues(Y_TICKS)
          .tickFormat((t) => (col === 0 ? String(t) : ""))
          .tickSizeInner(-3.5)
          .tickSizeOuter(0)
          .tickPadding(5)
      );
      styleAxis(left);
      left.selectAll("text").attr("dy", "0.48em");

      const right = g
        .append("g")
        .attr("transform", `translate(${PANEL_W},0)`)
        .call(
          d3
            .axisRight(y)
            .tickValues(Y_TICKS)
            .tickFormat(() => "")
            .tickSizeInner(-3.5)
            .tickSizeOuter(0)
        );
      styleAxis(right);

      g.append("text")
        .attr("x", PANEL_W / 2)
        .attr("y", -7)
        .attr("text-anchor", "middle")
        .attr("font-family", FONT)
        .attr("font-weight", "bold")
        .attr("font-size", 18.5)
        .attr("fill", "#000")
        .text(panel.year);

      if (col === 0) {
        const ex = g
          .append("text")
          .attr("x", 2)
          .attr("y", -2.5)
          .attr("font-family", FONT)
          .attr("fill", INK);
        ex.append("tspan").attr("font-size", 17.5).text("\u00d710");
        ex.append("tspan").attr("font-size", 13).attr("dy", -7).text("-2");
      }
    });

    // shared y label
    svg
      .append("text")
      .attr("transform", "translate(25.5,285) rotate(-90)")
      .attr("text-anchor", "middle")
      .attr("font-family", FONT)
      .attr("font-size", 21)
      .attr("fill", INK)
      .text("N [1/s]");

    // legend
    const leg = svg.append("g");
    const box = leg
      .append("rect")
      .attr("x", 127.5)
      .attr("y", 12)
      .attr("height", 22)
      .attr("fill", "#fff")
      .attr("stroke", "#333")
      .attr("stroke-width", 0.8);
    let cx = 130;
    DEPTH_LABELS.forEach((label, k) => {
      leg
        .append("line")
        .attr("x1", cx)
        .attr("x2", cx + 29)
        .attr("y1", 23.2)
        .attr("y2", 23.2)
        .attr("stroke", COLORS[k])
        .attr("stroke-width", 2.1);
      const t = leg
        .append("text")
        .attr("x", cx + 32)
        .attr("y", 29.2)
        .attr("font-family", FONT)
        .attr("font-size", 15.5)
        .attr("fill", "#000")
        .text(label);
      const w = (t.node() as SVGTextElement).getComputedTextLength();
      cx += 32 + w + (k < DEPTH_LABELS.length - 1 ? 9 : 4.5);
    });
    box.attr("width", cx - 127.5);
  }, []);

  return (
    <svg
      ref={ref}
      width={W}
      height={H}
      style={{ position: "absolute", left: 0, top: 0, display: "block" }}
    />
  );
}
